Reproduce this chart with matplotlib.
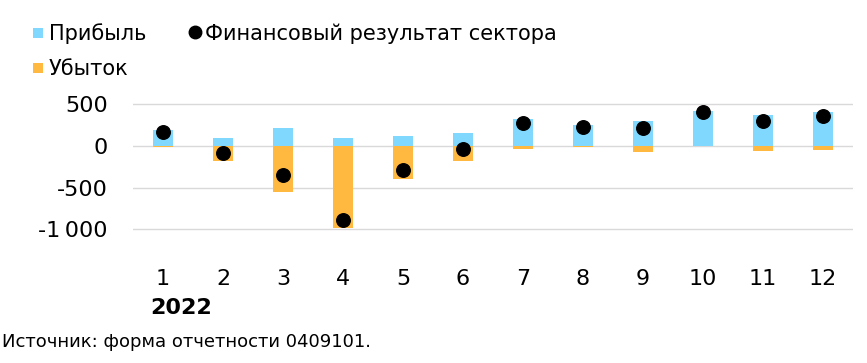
import matplotlib
matplotlib.use("Agg")
import matplotlib.pyplot as plt
from matplotlib.lines import Line2D
from matplotlib.patches import Rectangle

months = [1, 2, 3, 4, 5, 6, 7, 8, 9, 10, 11, 12]
month_labels = ["1", "2", "3", "4", "5", "6", "7", "8", "9", "10", "11", "12"]
profit = [192, 100, 220, 92, 116, 160, 320, 252, 300, 416, 368, 404]
loss = [-15, -180, -552, -985, -400, -180, -40, -16, -76, -5, -56, -44]
result = [173, -84, -344, -892, -288, -40, 280, 228, 216, 408, 304, 356]
yticks = [500, 0, -500, -1000]
ytick_labels = ["500", "0", "-500", "-1\u2009000"]

BLUE = "#80D8FF"
ORANGE = "#FFB840"
plt.rcParams["font.family"] = ["DejaVu Sans"]

fig = plt.figure(figsize=(8.67, 3.63), dpi=100)
W, H = 867, 363
Y0, Y1 = -1015, 515
top_px, bot_px = 104.3 - 1.25, 229.3 + 1.25
ax = fig.add_axes([133 / W, 1 - bot_px / H, 720 / W, (bot_px - top_px) / H])

ax.bar(months, profit, width=0.345, color=BLUE, zorder=2)
ax.bar(months, loss, width=0.345, color=ORANGE, zorder=2)
ax.scatter(months, result, s=95, color="black", zorder=3)

ax.set_xlim(0.5, 12.5)
ax.set_ylim(Y0, Y1)
ax.set_yticks(yticks)
ax.set_yticklabels(ytick_labels)
ax.set_xticks(months)
ax.set_xticklabels(month_labels)
ax.grid(axis="y", color="#d9d9d9", linewidth=1, zorder=0)
ax.set_axisbelow(True)
for s in ax.spines.values():
    s.set_visible(False)
ax.tick_params(axis="both", length=0, labelsize=16, colors="black")
ax.tick_params(axis="x", pad=28)
ax.tick_params(axis="y", pad=18)

fig.text(150 / W, 1 - 308 / H, "2022", fontsize=16, fontweight="bold",
         ha="left", va="center")
fig.text(2 / W, 1 - 342 / H, "Источник: форма отчетности 0409101.",
         fontsize=13, ha="left", va="center")

# legend (manual placement)
def fx(x):
    return x / W

def fy(y):
    return 1 - y / H

fig.patches.append(Rectangle((fx(33), fy(38)), 10 / W, 10 / H, transform=fig.transFigure,
                             facecolor=BLUE, edgecolor="none"))
fig.patches.append(Rectangle((fx(33), fy(73)), 10 / W, 10 / H, transform=fig.transFigure,
                             facecolor=ORANGE, edgecolor="none"))
fig.lines.append(Line2D([fx(195)], [fy(32)], marker="o", color="black", markersize=9,
                        linestyle="none", transform=fig.transFigure))
fig.text(fx(49), fy(32), "Прибыль", fontsize=15, ha="left", va="center_baseline")
fig.text(fx(49), fy(67), "Убыток", fontsize=15, ha="left", va="center_baseline")
fig.text(fx(205), fy(32), "Финансовый результат сектора", fontsize=15,
         ha="left", va="center_baseline")

fig.savefig("out.png", dpi=100)
